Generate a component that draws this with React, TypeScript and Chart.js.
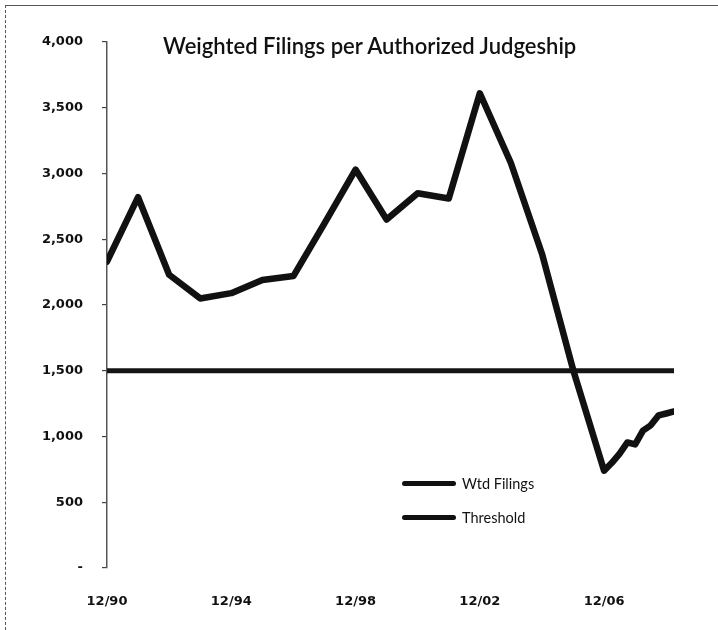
import React, { useEffect, useRef } from "react";
import { Chart, registerables } from "chart.js";

Chart.register(...registerables);

const periods = [
  "12/90", "12/91", "12/92", "12/93", "12/94", "12/95", "12/96", "12/97", "12/98", "12/99",
  "12/00", "12/01", "12/02", "12/03", "12/04", "12/05", "12/06",
  "3/07", "6/07", "9/07", "12/07", "3/08", "6/08", "9/08", "12/08", "3/09",
];
const wtdFilings = [
  2330, 2820, 2230, 2050, 2090, 2190, 2220, 2620, 3030, 2650,
  2850, 2810, 3610, 3080, 2390, 1510, 740,
  800, 870, 955, 940, 1045, 1085, 1160, 1175, 1190,
];
const thresholdValue = 1500;
const xTickLabels = ["12/90", "12/94", "12/98", "12/02", "12/06"];
const yTicks = [0, 500, 1000, 1500, 2000, 2500, 3000, 3500, 4000];
const titleText = "Weighted Filings per Authorized Judgeship";
const seriesNames = ["Wtd Filings", "Threshold"];

function toMonths(label: string): number {
  const [m, yy] = label.split("/").map(Number);
  const year = yy < 50 ? 2000 + yy : 1900 + yy;
  return (year - 1990) * 12 + (m - 12);
}

export default function App() {
  const canvasRef = useRef<HTMLCanvasElement | null>(null);

  useEffect(() => {
    if (!canvasRef.current) return;
    const xs = periods.map(toMonths);
    const filingPts = xs.map((x, i) => ({ x, y: wtdFilings[i] }));
    const thresholdPts = [
      { x: xs[0], y: thresholdValue },
      { x: xs[xs.length - 1], y: thresholdValue },
    ];
    const tickFont = { family: "'DejaVu Sans', sans-serif", size: 13, weight: "bold" as const };
    const chart = new Chart(canvasRef.current, {
      type: "line",
      data: {
        datasets: [
          {
            label: seriesNames[0],
            data: filingPts,
            borderColor: "#111",
            borderWidth: 6.5,
            pointRadius: 0,
            borderJoinStyle: "round",
            borderCapStyle: "round",
            tension: 0,
          },
          {
            label: seriesNames[1],
            data: thresholdPts,
            borderColor: "#151515",
            borderWidth: 5,
            pointRadius: 0,
            borderCapStyle: "round",
          },
        ],
      },
      options: {
        animation: false,
        responsive: false,
        maintainAspectRatio: false,
        layout: { padding: { left: 0, top: 42, right: 44, bottom: 0 } },
        plugins: { legend: { display: false }, title: { display: false }, tooltip: { enabled: false } },
        scales: {
          x: {
            type: "linear",
            min: xs[0],
            max: xs[xs.length - 1],
            afterBuildTicks: (scale: any) => {
              scale.ticks = xTickLabels.map((l) => ({ value: toMonths(l) }));
            },
            afterFit: (scale: any) => {
              scale.height = 62;
            },
            ticks: {
              autoSkip: false,
              maxRotation: 0,
              padding: 26,
              color: "#111",
              font: tickFont,
              callback: (v: any) => {
                const idx = xTickLabels.findIndex((l) => toMonths(l) === v);
                return idx >= 0 ? xTickLabels[idx] : "";
              },
            },
            grid: { display: false, drawTicks: false },
            border: { display: false },
          },
          y: {
            min: yTicks[0],
            max: yTicks[yTicks.length - 1],
            afterBuildTicks: (scale: any) => {
              scale.ticks = yTicks.map((v) => ({ value: v }));
            },
            afterFit: (scale: any) => {
              scale.width = 107;
            },
            ticks: {
              padding: 19,
              color: "#111",
              font: tickFont,
              callback: (v: any) => (v === 0 ? "-" : Number(v).toLocaleString("en-US")),
            },
            grid: {
              display: true,
              drawOnChartArea: false,
              drawTicks: true,
              tickLength: 5,
              color: "#444",
              lineWidth: 1.2,
            },
            border: { display: true, color: "#555", width: 1.5 },
          },
        },
      },
    });
    return () => chart.destroy();
  }, []);

  const legendItem = (label: string, top: number) => (
    <div
      key={label}
      style={{ position: "absolute", left: 402, top, display: "flex", alignItems: "center", height: 16 }}
    >
      <div style={{ width: 54, height: 5, background: "#111", borderRadius: 3 }} />
      <span style={{ marginLeft: 6, fontFamily: "Lato, sans-serif", fontSize: 14.5, color: "#111" }}>{label}</span>
    </div>
  );

  return (
    <div style={{ position: "fixed", left: 0, top: 0, width: 718, height: 630, background: "#fff", overflow: "hidden" }}>
      <div
        style={{
          position: "absolute",
          left: 5,
          top: 5,
          width: 713,
          height: 625,
          borderLeft: "1px dashed #555",
          borderTop: "1px solid #555",
          boxSizing: "border-box",
        }}
      />
      <canvas ref={canvasRef} width={718} height={630} style={{ position: "absolute", left: 0, top: 0 }} />
      <div
        style={{
          position: "absolute",
          left: 163,
          top: 32,
          fontFamily: "Lato, sans-serif",
          fontSize: 22,
          fontWeight: 600,
          color: "#111",
          whiteSpace: "nowrap",
        }}
      >
        {titleText}
      </div>
      {legendItem(seriesNames[0], 475)}
      {legendItem(seriesNames[1], 509)}
    </div>
  );
}
